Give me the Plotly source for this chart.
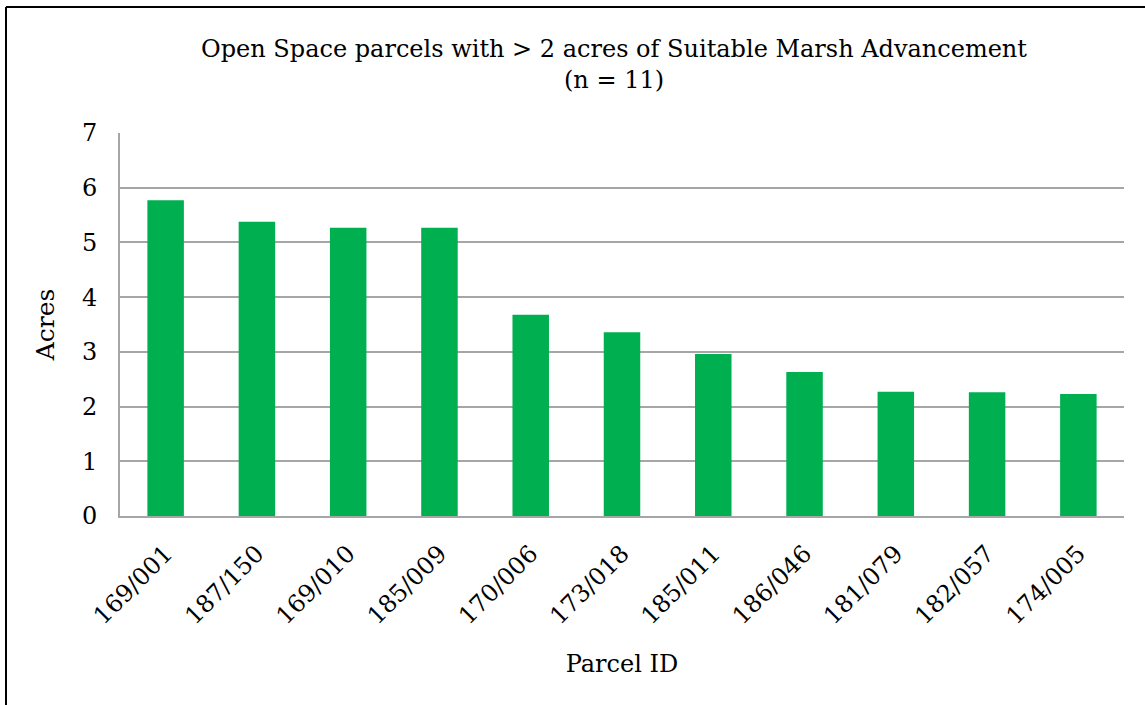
import plotly.graph_objects as go

parcels = ["169/001", "187/150", "169/010", "185/009", "170/006", "173/018",
           "185/011", "186/046", "181/079", "182/057", "174/005"]
acres = [5.77, 5.38, 5.27, 5.27, 3.68, 3.36, 2.96, 2.63, 2.27, 2.26, 2.23]
y_ticks = [0, 1, 2, 3, 4, 5, 6, 7]

FONT = "DejaVu Serif"
W, H = 1145, 705
L, R, T, B = 120, 21, 133, 189
pw, ph = W - L - R, H - T - B

fig = go.Figure(go.Bar(x=parcels, y=acres, marker=dict(color="#00B050", line=dict(width=0))))

def px_x(p):
    return (p - L) / pw

def px_y(p):
    return (H - B - p) / ph

fig.update_layout(
    width=W, height=H,
    margin=dict(l=L, r=R, t=T, b=B, autoexpand=False),
    paper_bgcolor="white", plot_bgcolor="white",
    bargap=0.6,
    showlegend=False,
    font=dict(family=FONT, color="black", size=24),
    title=dict(text="Open Space parcels with > 2 acres of Suitable Marsh Advancement<br>(n = 11)",
               xref="container", yref="container",
               x=614 / W, xanchor="center", y=1 - 57 / H, yanchor="middle",
               font=dict(family=FONT, size=24, color="black")),
    xaxis=dict(tickangle=-45, showline=True, linecolor="#A6A6A6", linewidth=2,
               showgrid=False, ticks="", tickfont=dict(size=24), ticklabelstandoff=12,
               title=dict(text="Parcel ID", font=dict(size=24), standoff=26)),
    yaxis=dict(range=[0, 7], tickvals=y_ticks, showline=True, linecolor="#A6A6A6", linewidth=2,
               gridcolor="#A6A6A6", gridwidth=2, zeroline=False, ticks="",
               tickfont=dict(size=24), ticklabelstandoff=16,
               title=dict(text="Acres", font=dict(size=25), standoff=20)),
    shapes=[
        dict(type="line", xref="paper", yref="paper", x0=px_x(6), x1=px_x(6), y0=px_y(7), y1=px_y(720),
             line=dict(color="black", width=2)),
        dict(type="line", xref="paper", yref="paper", x0=px_x(6), x1=px_x(1160), y0=px_y(7), y1=px_y(7),
             line=dict(color="black", width=2)),
    ],
)

fig.write_html("out.html", config={"displayModeBar": False},
               post_script="document.body.style.margin='0';")
